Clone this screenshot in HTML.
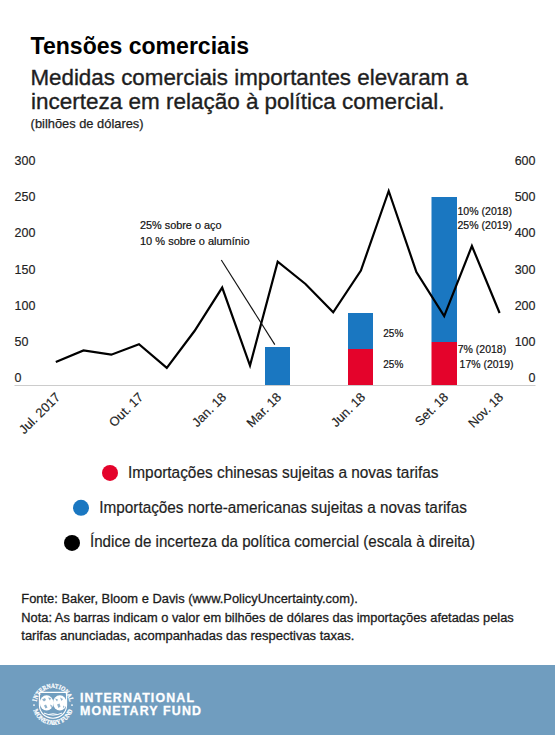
<!DOCTYPE html>
<html><head><meta charset="utf-8">
<style>
html,body{margin:0;padding:0;}
body{width:555px;height:735px;overflow:hidden;background:#fff;}
svg{display:block;}
text{font-family:"Liberation Sans",sans-serif;}
</style></head><body>
<svg width="555" height="735" viewBox="0 0 555 735" font-family="Liberation Sans, sans-serif" fill="#222">
<text x="30.6" y="54" font-size="24" textLength="218.5" lengthAdjust="spacingAndGlyphs" font-weight="bold" fill="#000">Tensões comerciais</text>
<g fill="#1e1e1e" stroke="#1e1e1e" stroke-width="0.35">
<text x="30.4" y="84.5" font-size="22" textLength="437.5" lengthAdjust="spacingAndGlyphs">Medidas comerciais importantes elevaram a</text>
<text x="31" y="108.5" font-size="22" textLength="413.5" lengthAdjust="spacingAndGlyphs">incerteza em relação à política comercial.</text>
<text x="30.6" y="128" font-size="13" textLength="113" lengthAdjust="spacingAndGlyphs" stroke-width="0.25">(bilhões de dólares)</text>
</g>
<text x="14.5" y="165.0" font-size="12.5" stroke="#222" stroke-width="0.15">300</text>
<text x="535.5" y="165.0" font-size="12.5" text-anchor="end" stroke="#222" stroke-width="0.15">600</text>
<text x="14.5" y="201.2" font-size="12.5" stroke="#222" stroke-width="0.15">250</text>
<text x="535.5" y="201.2" font-size="12.5" text-anchor="end" stroke="#222" stroke-width="0.15">500</text>
<text x="14.5" y="237.4" font-size="12.5" stroke="#222" stroke-width="0.15">200</text>
<text x="535.5" y="237.4" font-size="12.5" text-anchor="end" stroke="#222" stroke-width="0.15">400</text>
<text x="14.5" y="273.6" font-size="12.5" stroke="#222" stroke-width="0.15">150</text>
<text x="535.5" y="273.6" font-size="12.5" text-anchor="end" stroke="#222" stroke-width="0.15">300</text>
<text x="14.5" y="309.8" font-size="12.5" stroke="#222" stroke-width="0.15">100</text>
<text x="535.5" y="309.8" font-size="12.5" text-anchor="end" stroke="#222" stroke-width="0.15">200</text>
<text x="14.5" y="346.0" font-size="12.5" stroke="#222" stroke-width="0.15">50</text>
<text x="535.5" y="346.0" font-size="12.5" text-anchor="end" stroke="#222" stroke-width="0.15">100</text>
<text x="14.5" y="382.2" font-size="12.5" stroke="#222" stroke-width="0.15">0</text>
<text x="535.5" y="382.2" font-size="12.5" text-anchor="end" stroke="#222" stroke-width="0.15">0</text>

  <line x1="14.5" y1="385.5" x2="535.5" y2="385.5" stroke="#cccccc" stroke-width="1"/>
  <rect x="265" y="347" width="25" height="38" fill="#1a77c1"/>
  <rect x="348" y="313" width="25" height="36" fill="#1a77c1"/>
  <rect x="348" y="349" width="25" height="36" fill="#e4032b"/>
  <rect x="431.5" y="197" width="25.5" height="145" fill="#1a77c1"/>
  <rect x="431.5" y="342" width="25.5" height="43" fill="#e4032b"/>
  <polyline fill="none" stroke="#000" stroke-width="2.2" stroke-linejoin="miter" points="55.8,362.0 83.5,350.4 111.3,354.7 139.0,344.2 166.8,367.8 194.5,331.0 222.2,287.6 250.0,365.6 277.7,261.6 305.5,284.0 333.2,312.3 360.9,270.5 388.7,191.0 416.4,272.0 444.2,316.2 471.9,246.0 499.6,313.0"/>
  <line x1="221.3" y1="260" x2="274.8" y2="344.6" stroke="#111" stroke-width="1.15"/>

<g fill="#111" stroke="#111" stroke-width="0.2">
<text x="140" y="229.2" font-size="11" textLength="81.5" lengthAdjust="spacingAndGlyphs">25% sobre o aço</text>
<text x="140" y="245.1" font-size="11" textLength="109.5" lengthAdjust="spacingAndGlyphs">10 % sobre o alumínio</text>
<text x="383.3" y="337.2" font-size="11" textLength="20" lengthAdjust="spacingAndGlyphs">25%</text>
<text x="383.3" y="368" font-size="11" textLength="20" lengthAdjust="spacingAndGlyphs">25%</text>
<text x="457.5" y="214.6" font-size="11" textLength="54.5" lengthAdjust="spacingAndGlyphs">10% (2018)</text>
<text x="457.5" y="228.6" font-size="11" textLength="54.5" lengthAdjust="spacingAndGlyphs">25% (2019)</text>
<text x="457.7" y="353.3" font-size="11" textLength="48.5" lengthAdjust="spacingAndGlyphs">7% (2018)</text>
<text x="459.6" y="368.3" font-size="11" textLength="54" lengthAdjust="spacingAndGlyphs">17% (2019)</text>
</g>
<g font-size="12.8" fill="#222" stroke="#222" stroke-width="0.15" text-anchor="end">
<text transform="translate(61,398) rotate(-45)">Jul. 2017</text>
<text transform="translate(144,398) rotate(-45)">Out. 17</text>
<text transform="translate(227,398) rotate(-45)">Jan. 18</text>
<text transform="translate(282,398) rotate(-45)">Mar. 18</text>
<text transform="translate(366,398) rotate(-45)">Jun. 18</text>
<text transform="translate(449,398) rotate(-45)">Set. 18</text>
<text transform="translate(504,398) rotate(-45)">Nov. 18</text>
</g>
<circle cx="110" cy="472.9" r="8" fill="#e4032b"/>
<circle cx="81" cy="507.8" r="8" fill="#1a77c1"/>
<circle cx="72" cy="542.9" r="8" fill="#000"/>
<text x="128" y="477.5" font-size="16" textLength="310.5" lengthAdjust="spacingAndGlyphs" fill="#1e1e1e" stroke="#1e1e1e" stroke-width="0.2">Importações chinesas sujeitas a novas tarifas</text>
<text x="99.3" y="513.2" font-size="16" textLength="367.5" lengthAdjust="spacingAndGlyphs" fill="#1e1e1e" stroke="#1e1e1e" stroke-width="0.2">Importações norte-americanas sujeitas a novas tarifas</text>
<text x="90" y="547.2" font-size="16" textLength="385" lengthAdjust="spacingAndGlyphs" fill="#1e1e1e" stroke="#1e1e1e" stroke-width="0.2">Índice de incerteza da política comercial (escala à direita)</text>
<g fill="#1a1a1a" stroke="#1a1a1a" stroke-width="0.28">
<text x="21.3" y="602.8" font-size="12.5" textLength="336.5" lengthAdjust="spacingAndGlyphs">Fonte: Baker, Bloom e Davis (www.PolicyUncertainty.com).</text>
<text x="21.3" y="621.6" font-size="12.5" textLength="492.5" lengthAdjust="spacingAndGlyphs">Nota: As barras indicam o valor em bilhões de dólares das importações afetadas pelas</text>
<text x="21.3" y="640" font-size="12.5" textLength="333" lengthAdjust="spacingAndGlyphs">tarifas anunciadas, acompanhadas das respectivas taxas.</text>
</g>
<rect x="0" y="665" width="555" height="70" fill="#709dbf"/>
<text x="80" y="701.9" font-size="12.4" font-weight="bold" fill="#fff" stroke="#fff" stroke-width="0.3" textLength="114" lengthAdjust="spacing">INTERNATIONAL</text>
<text x="80" y="714.8" font-size="12.4" font-weight="bold" fill="#fff" stroke="#fff" stroke-width="0.3" textLength="121" lengthAdjust="spacing">MONETARY FUND</text>
<g transform="translate(53,704.6)">
 <defs>
  <path id="arcTop" d="M -16.6,0 A 16.6 16.6 0 0 1 16.6,0"/>
  <path id="arcBot" d="M -20.3,0 A 20.3 20.3 0 0 0 20.3,0"/>
 </defs>
 <text style="font-family:'Liberation Serif',serif;font-weight:bold;font-size:6.6px" fill="#fff" stroke="#fff" stroke-width="0.25"><textPath href="#arcTop" startOffset="50%" text-anchor="middle" textLength="46" lengthAdjust="spacingAndGlyphs">INTERNATIONAL</textPath></text>
 <text style="font-family:'Liberation Serif',serif;font-weight:bold;font-size:6.6px" fill="#fff" stroke="#fff" stroke-width="0.25"><textPath href="#arcBot" startOffset="50%" text-anchor="middle" textLength="52" lengthAdjust="spacingAndGlyphs">MONETARY FUND</textPath></text>
 <circle cx="-19" cy="0.5" r="0.9" fill="#fff"/>
 <circle cx="19" cy="0.5" r="0.9" fill="#fff"/>
 <path d="M -13.6,-12.2 L 13.6,-12.2 L 13.6,0.5 C 13.6,8.5 7.5,13.2 0,13.6 C -7.5,13.2 -13.6,8.5 -13.6,0.5 Z" fill="none" stroke="#fff" stroke-width="1.1"/>
 <ellipse cx="-6.4" cy="-1.8" rx="6.8" ry="7.6" fill="#fff"/>
 <ellipse cx="6.8" cy="-1.8" rx="6.8" ry="7.6" fill="#fff"/>
 <path d="M -11,-5 l 3,-1.5 l 1,2 l -2,1.5 Z M -5,-7 l 3,0.5 l -1,2.5 Z M -9,1 l 2,-1 l 1.5,3 l -2,1 Z M -3,0 l 2,1 l -0.5,3 Z" fill="#8fb2cc"/>
 <path d="M 2,-6 l 3,1 l -1,2 Z M 7,-7 l 3,1.5 l -1.5,2 Z M 4,0 l 2.5,-1 l 1,3 l -2,1.5 Z M 10,1 l 1.5,1 l -1,2 Z" fill="#8fb2cc"/>
 <path d="M -9,8.5 Q 0,12.5 9,8.5" fill="none" stroke="#fff" stroke-width="1"/>
 <path d="M -5,10 Q 0,8 5,10" fill="none" stroke="#fff" stroke-width="0.8"/>
</g>
</svg>
</body></html>
